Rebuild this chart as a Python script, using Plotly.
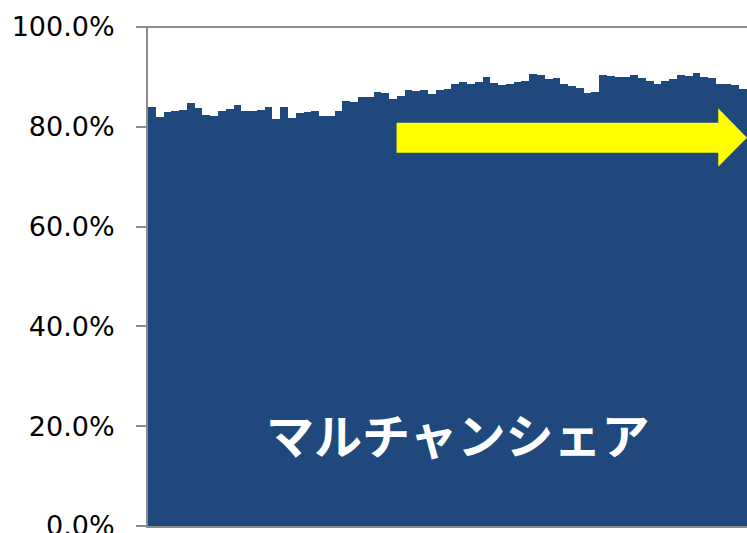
import plotly.graph_objects as go

# Monthly share values (fraction of market)
periods = list(range(1, 78))
share = [
    0.839, 0.819, 0.829, 0.832, 0.833, 0.847, 0.838, 0.823, 0.822, 0.831,
    0.836, 0.843, 0.831, 0.831, 0.833, 0.839, 0.815, 0.840, 0.818, 0.827,
    0.829, 0.831, 0.822, 0.822, 0.832, 0.852, 0.849, 0.859, 0.859, 0.870,
    0.867, 0.856, 0.862, 0.873, 0.872, 0.873, 0.866, 0.873, 0.876, 0.886,
    0.890, 0.886, 0.890, 0.900, 0.888, 0.883, 0.886, 0.890, 0.892, 0.905,
    0.903, 0.895, 0.897, 0.885, 0.881, 0.877, 0.867, 0.870, 0.904, 0.901,
    0.900, 0.899, 0.903, 0.897, 0.892, 0.886, 0.891, 0.895, 0.903, 0.902,
    0.908, 0.899, 0.898, 0.885, 0.885, 0.884, 0.875,
]
y_ticks = [0, 0.2, 0.4, 0.6, 0.8, 1.0]
label = "マルチャンシェア"

BAR_COLOR = "#1F497D"
AXIS_COLOR = "#8C8C8C"

fig = go.Figure(
    go.Bar(
        x=periods,
        y=share,
        marker=dict(color=BAR_COLOR, line=dict(width=0)),
        hoverinfo="skip",
    )
)

fig.update_layout(
    width=747,
    height=533,
    margin=dict(l=148, r=0, t=27, b=7, autoexpand=False),
    paper_bgcolor="white",
    plot_bgcolor="white",
    bargap=0,
    showlegend=False,
    xaxis=dict(
        range=[0.5, len(periods) + 0.5],
        showticklabels=False,
        ticks="",
        showgrid=False,
        zeroline=False,
        showline=True,
        linecolor=AXIS_COLOR,
        linewidth=2,
        automargin=False,
    ),
    yaxis=dict(
        range=[0, 1.0],
        tickvals=y_ticks,
        tickformat=".1%",
        ticks="outside",
        ticklen=10,
        tickwidth=2,
        tickcolor=AXIS_COLOR,
        ticklabelstandoff=16,
        ticklabeloverflow="allow",
        automargin=False,
        showgrid=False,
        zeroline=False,
        showline=True,
        linecolor=AXIS_COLOR,
        linewidth=2,
        tickfont=dict(family="DejaVu Sans", size=27, color="#000000"),
    ),
)

# Top frame line at 100%
fig.add_shape(
    type="line", xref="paper", yref="paper",
    x0=-11 / 599, x1=1, y0=1, y1=1,
    line=dict(color=AXIS_COLOR, width=2),
    layer="above",
)

# Yellow trend arrow
sx0, sx1, tip = 0.415, 0.952, 1.0
sy_top, sy_bot = 0.808, 0.748
hy_top, hy_bot, ty = 0.837, 0.720, 0.778
arrow_path = (
    f"M {sx0} {sy_bot} L {sx0} {sy_top} L {sx1} {sy_top} L {sx1} {hy_top} "
    f"L {tip} {ty} L {sx1} {hy_bot} L {sx1} {sy_bot} Z"
)
fig.add_shape(
    type="path", xref="paper", yref="paper", path=arrow_path,
    fillcolor="#FFFF00", line=dict(width=0), layer="above",
)

fig.add_annotation(
    text=f"<b>{label}</b>",
    xref="paper", yref="paper",
    x=0.517, y=0.186,
    xanchor="center", yanchor="middle",
    showarrow=False,
    font=dict(family="Noto Sans CJK JP", size=48, color="white"),
)

fig.write_html("out.html")
